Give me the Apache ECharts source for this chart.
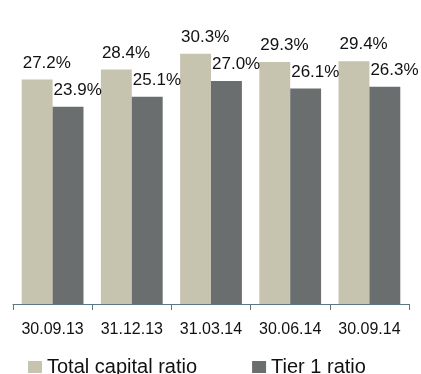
<!DOCTYPE html>
<html>
<head>
<meta charset="utf-8">
<script src="https://cdn.jsdelivr.net/npm/echarts@6/dist/echarts.min.js"></script>
<style>
  html, body { margin: 0; padding: 0; background: #fff; }
  #chart { width: 421px; height: 374px; }
</style>
</head>
<body>
<div id="chart"></div>
<script>
const categories = ['30.09.13', '31.12.13', '31.03.14', '30.06.14', '30.09.14']
const totalCapital = [27.2, 28.4, 30.3, 29.3, 29.4]
const tier1 = [23.9, 25.1, 27.0, 26.1, 26.3]

const font = 'Liberation Sans, Arial, sans-serif'

const barLabel = {
  show: true,
  position: [1, -8],
  align: 'left',
  verticalAlign: 'bottom',
  color: '#111',
  fontFamily: font,
  fontSize: 17,
  formatter: (p) => p.value.toFixed(1) + '%'
}

const chart = echarts.init(document.getElementById('chart'))
chart.setOption({
  animation: false,
  legend: {
    data: ['Total capital ratio', 'Tier 1 ratio'],
    left: 28,
    top: 357,
    padding: 0,
    itemWidth: 14,
    itemHeight: 12,
    itemGap: 55,
    icon: 'rect',
    textStyle: { color: '#111', fontFamily: font, fontSize: 20 }
  },
  grid: { left: 13, right: 12, top: 15, bottom: 70 },
  xAxis: {
    type: 'category',
    data: categories,
    axisLine: { lineStyle: { color: '#5d7685', width: 1 } },
    axisTick: { show: true, length: 6, lineStyle: { color: '#5d7685' } },
    axisLabel: { color: '#111', fontFamily: font, fontSize: 16, margin: 18, interval: 0 }
  },
  yAxis: {
    type: 'value',
    min: 0,
    max: 35,
    show: false,
    splitLine: { show: false }
  },
  series: [
    {
      name: 'Total capital ratio',
      type: 'bar',
      data: totalCapital,
      barGap: '0%',
      barCategoryGap: '22%',
      itemStyle: { color: '#c6c3ae' },
      label: barLabel
    },
    {
      name: 'Tier 1 ratio',
      type: 'bar',
      data: tier1,
      itemStyle: { color: '#6a6e6e' },
      label: barLabel
    }
  ]
})
</script>
</body>
</html>
